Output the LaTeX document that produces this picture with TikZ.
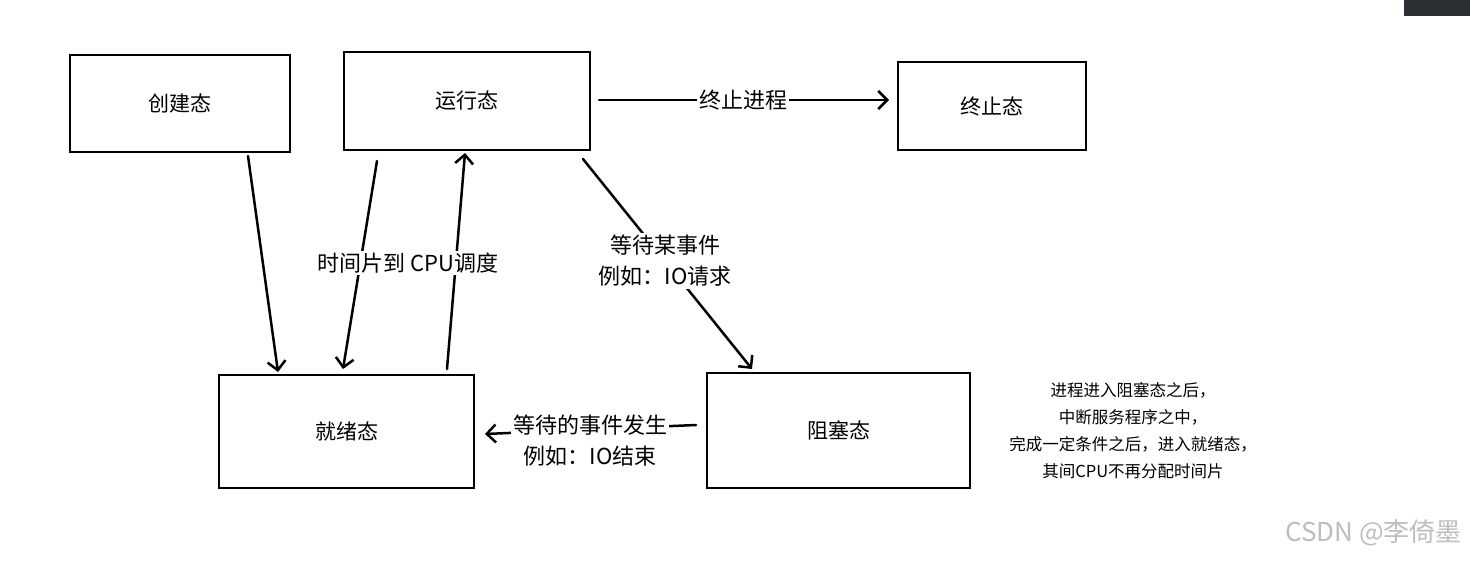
\documentclass[tikz,border=0pt]{standalone}
\usepackage{fontspec}
\setmainfont{Noto Sans CJK SC}
\usetikzlibrary{arrows.meta}
\definecolor{darkbar}{HTML}{2B2E33}
\definecolor{wmgray}{HTML}{BDBDBD}
\begin{document}
\begin{tikzpicture}[x=1pt,y=-1pt,
  statebox/.style={draw=black,line width=2pt,inner sep=0pt,font=\fontsize{21}{24}\selectfont},
  conn/.style={line width=2.5pt,line cap=round,-{Straight Barb[length=9pt,width=18pt,line width=2.5pt]}},
  lbl/.style={fill=white,inner sep=2pt,font=\fontsize{22}{31}\selectfont,align=center},
  note/.style={inner sep=0pt,font=\fontsize{16.5}{27}\selectfont,align=center}]
\useasboundingbox (0,0) rectangle (1470,560);
\fill[darkbar] (1404,0) rectangle (1470,16);

\node[statebox,minimum width=220pt,minimum height=97pt] (create) at (180,103.5) {创建态};
\node[statebox,minimum width=246pt,minimum height=98pt] (run) at (467,101) {运行态};
\node[statebox,minimum width=188pt,minimum height=88pt] (term) at (992,106) {终止态};
\node[statebox,minimum width=255pt,minimum height=113pt] (ready) at (346.5,431.5) {就绪态};
\node[statebox,minimum width=263pt,minimum height=115pt] (block) at (838.5,430.5) {阻塞态};

\draw[conn] ([xshift=68pt,yshift=-3pt]create.south) -- ([xshift=-68.5pt,yshift=2pt]ready.north);
\draw[conn] ([xshift=-90pt,yshift=-10pt]run.south) -- ([xshift=-3.5pt,yshift=5pt]ready.north);
\draw[conn] ([xshift=100.5pt,yshift=5pt]ready.north) -- ([xshift=-2pt,yshift=-2pt]run.south);
\node[lbl] (lslice) at (408,263) {时间片到 CPU调度};

\draw[conn] ([xshift=-8pt,yshift=-8pt]run.south east) -- ([xshift=-86.5pt,yshift=3pt]block.north);
\node[lbl] (lwait) at (665,261) {等待某事件\\例如：IO请求};

\draw[conn] ([xshift=8pt,yshift=1pt]run.east) -- ([xshift=-8pt,yshift=6pt]term.west);
\node[lbl] (lterm) at (743,100) {终止进程};

\draw[conn] ([xshift=-10pt,yshift=5.5pt]block.west) -- ([xshift=10pt,yshift=-2.5pt]ready.east);
\node[lbl] (ldone) at (590,441) {等待的事件发生\\例如：IO结束};

\node[note] (notetext) at (1133,431) {进程进入阻塞态之后，\\中断服务程序之中，\\完成一定条件之后，进入就绪态，\\其间CPU不再分配时间片};

\node[anchor=east,inner sep=0pt,text=wmgray,font=\fontsize{26}{28}\selectfont] (wm) at (1462,533) {CSDN @李倚墨};
\end{tikzpicture}
\end{document}
